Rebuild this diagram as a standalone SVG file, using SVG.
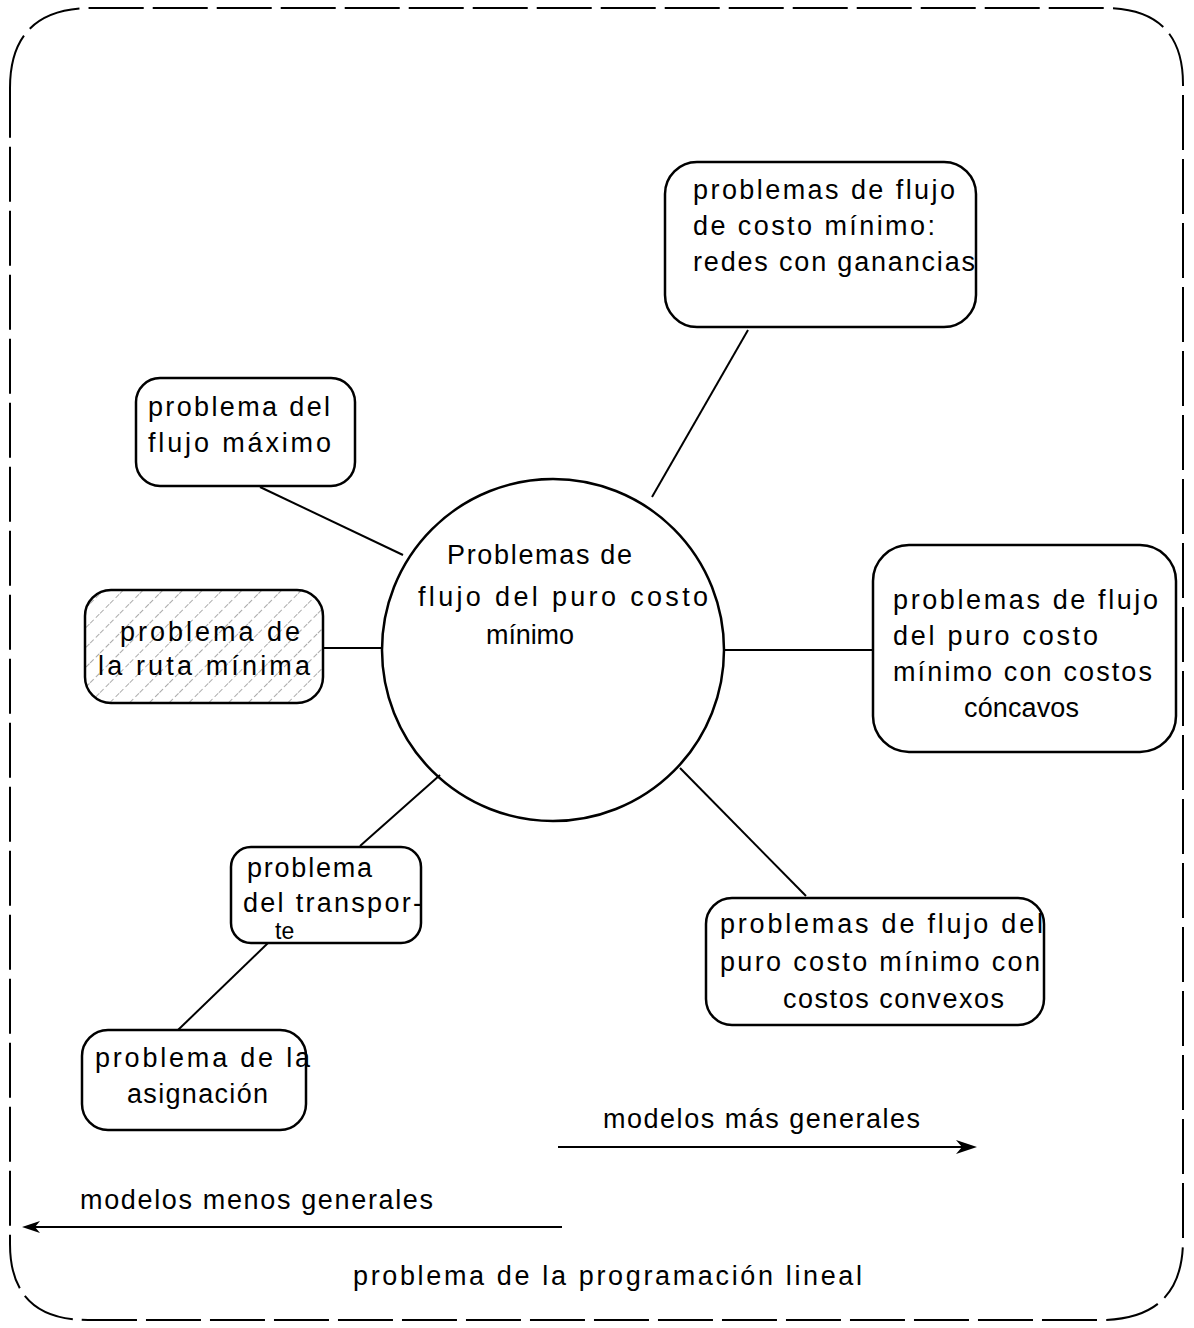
<svg xmlns="http://www.w3.org/2000/svg" width="1194" height="1328" viewBox="0 0 1194 1328">
<style>
.box{fill:none;stroke:#000;stroke-width:2.5}
.ln{stroke:#000;stroke-width:2;fill:none}
.t{font-family:"Liberation Sans","DejaVu Sans",sans-serif;font-size:27px;fill:#000}
.t.s{font-size:23px}
</style>
<defs>
<pattern id="hatch" patternUnits="userSpaceOnUse" width="14" height="14" patternTransform="rotate(45)">
<line x1="0" y1="0" x2="0" y2="14" stroke="#555" stroke-width="1" stroke-dasharray="5 3"/>
</pattern>
</defs>
<rect width="1194" height="1328" fill="#fff"/>
<g id="border">
<path d="M10,88 Q10,8 92,8 L1104,8 Q1183,8 1183,84 L1183,1240 Q1183,1320 1100,1320 L88,1320 Q10,1320 10,1244 Z" fill="none" stroke="#000" stroke-width="2" stroke-dasharray="55 9"/>
</g>
<g id="connectors">
<line class="ln" x1="652" y1="497" x2="748" y2="330"/>
<line class="ln" x1="403" y1="555" x2="260" y2="487"/>
<line class="ln" x1="383" y1="648" x2="323" y2="648"/>
<line class="ln" x1="723" y1="650" x2="873" y2="650"/>
<line class="ln" x1="680" y1="768" x2="806" y2="896"/>
<line class="ln" x1="440" y1="775" x2="360" y2="846"/>
<line class="ln" x1="268" y1="943" x2="178" y2="1030"/>
</g>
<g id="center">
<circle cx="553" cy="650" r="171" class="box"/>
<text class="t" x="447" y="564" textLength="185" lengthAdjust="spacing">Problemas de</text>
<text class="t" x="418" y="606" textLength="290" lengthAdjust="spacing">flujo del puro costo</text>
<text class="t" x="486" y="644" textLength="88" lengthAdjust="spacing">mínimo</text>
</g>
<g id="n-redes">
<rect class="box" x="665" y="162" width="311" height="165" rx="32"/>
<text class="t" x="693" y="199" textLength="262" lengthAdjust="spacing">problemas de flujo</text>
<text class="t" x="693" y="235" textLength="242" lengthAdjust="spacing">de costo mínimo:</text>
<text class="t" x="693" y="271" textLength="282" lengthAdjust="spacing">redes con ganancias</text>
</g>
<g id="n-maximo">
<rect class="box" x="136" y="378" width="219" height="108" rx="24"/>
<text class="t" x="148" y="416" textLength="182" lengthAdjust="spacing">problema del</text>
<text class="t" x="148" y="452" textLength="183" lengthAdjust="spacing">flujo máximo</text>
</g>
<g id="n-ruta">
<rect x="85" y="590" width="238" height="113" rx="26" fill="url(#hatch)" stroke="#000" stroke-width="2.5"/>
<text class="t" x="120" y="641" textLength="180" lengthAdjust="spacing">problema de</text>
<text class="t" x="98" y="675" textLength="212" lengthAdjust="spacing">la ruta mínima</text>
</g>
<g id="n-concavos">
<rect class="box" x="873" y="545" width="303" height="207" rx="36"/>
<text class="t" x="893" y="609" textLength="265" lengthAdjust="spacing">problemas de flujo</text>
<text class="t" x="893" y="645" textLength="205" lengthAdjust="spacing">del puro costo</text>
<text class="t" x="893" y="681" textLength="259" lengthAdjust="spacing">mínimo con costos</text>
<text class="t" x="964" y="717" textLength="115" lengthAdjust="spacing">cóncavos</text>
</g>
<g id="n-transporte">
<rect class="box" x="231" y="847" width="190" height="96" rx="20"/>
<text class="t" x="247" y="877" textLength="125" lengthAdjust="spacing">problema</text>
<text class="t" x="243" y="912" textLength="179" lengthAdjust="spacing">del transpor-</text>
<text class="t s" x="275" y="939">te</text>
</g>
<g id="n-convexos">
<rect class="box" x="706" y="898" width="338" height="127" rx="26"/>
<text class="t" x="720" y="933" textLength="323" lengthAdjust="spacing">problemas de flujo del</text>
<text class="t" x="720" y="971" textLength="320" lengthAdjust="spacing">puro costo mínimo con</text>
<text class="t" x="783" y="1008" textLength="221" lengthAdjust="spacing">costos convexos</text>
</g>
<g id="n-asignacion">
<rect class="box" x="82" y="1030" width="224" height="100" rx="26"/>
<text class="t" x="95" y="1067" textLength="215" lengthAdjust="spacing">problema de la</text>
<text class="t" x="127" y="1103" textLength="141" lengthAdjust="spacing">asignación</text>
</g>
<g id="labels">
<text class="t" x="603" y="1128" textLength="317" lengthAdjust="spacing">modelos más generales</text>
<line class="ln" x1="558" y1="1147" x2="965" y2="1147" stroke-width="2.5"/>
<path d="M956,1140 L977,1147 L956,1154 L962,1147 Z" fill="#000"/>
<text class="t" x="80" y="1209" textLength="353" lengthAdjust="spacing">modelos menos generales</text>
<line class="ln" x1="32" y1="1227" x2="562" y2="1227" stroke-width="2.5"/>
<path d="M40,1221 L22,1227 L40,1233 L35,1227 Z" fill="#000"/>
<text class="t" x="353" y="1285" textLength="509" lengthAdjust="spacing">problema de la programación lineal</text>
</g>
</svg>
